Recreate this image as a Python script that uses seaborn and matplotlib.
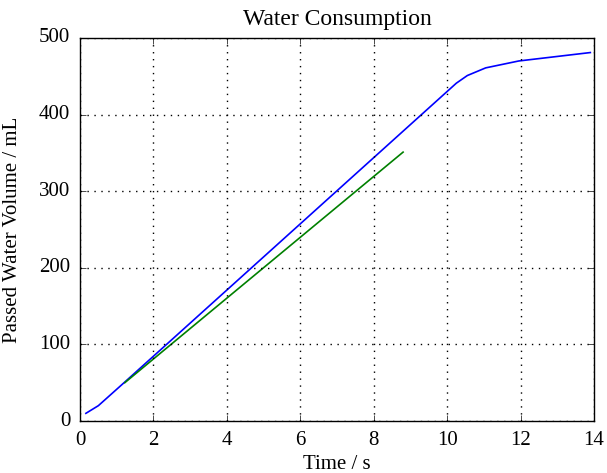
import matplotlib
matplotlib.use("Agg")
import matplotlib.pyplot as plt
import seaborn as sns
import pandas as pd

# Data
time_blue = [0.16, 0.5, 1.2, 10.25, 10.55, 11.05, 11.95, 13.9]
vol_blue = [10, 20, 50, 441, 451, 461, 470, 481]
time_green = [1.22, 8.8]
vol_green = [50, 351]

plt.style.use("classic")
plt.rcParams["font.family"] = ["Liberation Serif", "DejaVu Serif"]
plt.rcParams["font.size"] = 14

fig = plt.figure(figsize=(6.07, 4.73), dpi=100)
ax = fig.add_axes([80/607, 1-421/473, (594-80)/607, (421-38)/473])

df_b = pd.DataFrame({"t": time_blue, "v": vol_blue})
df_g = pd.DataFrame({"t": time_green, "v": vol_green})
sns.lineplot(data=df_b, x="t", y="v", ax=ax, color=(0, 0, 1), lw=1.2, sort=False)
sns.lineplot(data=df_g, x="t", y="v", ax=ax, color=(0, 0.5, 0), lw=1.2, sort=False)

ax.set_xlim(0, 14)
ax.set_ylim(0, 500)
ax.set_xticks(range(0, 15, 2))
ax.set_yticks(range(0, 501, 100))
ax.grid(True, color="black", linestyle=(0, (1, 4)), linewidth=1)
ax.set_title("Water Consumption", fontsize=17, pad=9)
ax.set_xlabel("Time / s", fontsize=15, labelpad=4)
ax.set_ylabel("Passed Water Volume / mL", fontsize=15, labelpad=12)
ax.tick_params(labelsize=15)
ax.tick_params(axis="x", pad=7)
ax.tick_params(axis="y", pad=7)

fig.savefig("out.png", dpi=100)
